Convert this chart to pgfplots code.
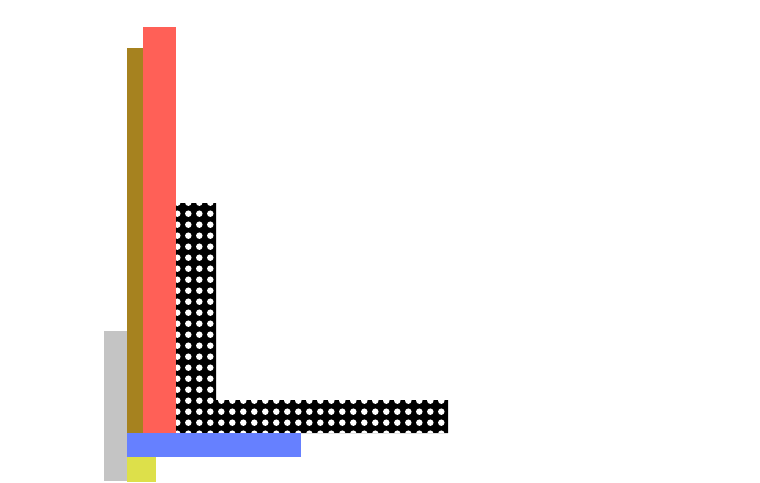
\documentclass[border=0pt]{standalone}
\usepackage{pgfplots}
\pgfplotsset{compat=1.18}
\usetikzlibrary{patterns.meta}

\definecolor{cgray}{HTML}{C4C4C4}
\definecolor{colive}{HTML}{A6821F}
\definecolor{cred}{HTML}{FF6057}
\definecolor{cblue}{HTML}{6680FF}
\definecolor{cyellow}{HTML}{DDE04A}

\tikzdeclarepattern{
  name=bigdots, type=uncolored,
  bottom left={(0pt,0pt)}, top right={(10.8pt,10.8pt)},
  tile size={(10.8pt,10.8pt)},
  code={\fill (5.4pt,5.4pt) circle (3.3pt);}
}

\begin{document}
\begin{tikzpicture}
\begin{axis}[
    scale only axis,
    width=760pt, height=482pt,
    xmin=0, xmax=760, ymin=0, ymax=482,
    y dir=reverse,
    hide axis,
]
% gray bar
\addplot[draw=none, fill=cgray] coordinates {(104,331) (127,331) (127,481) (104,481)} -- cycle;
% olive bar
\addplot[draw=none, fill=colive] coordinates {(127,48) (143,48) (143,433) (127,433)} -- cycle;
% red bar
\addplot[draw=none, fill=cred] coordinates {(143,27) (176,27) (176,433) (143,433)} -- cycle;
% dotted black L
\addplot[draw=none, fill=black, postaction={pattern=bigdots, pattern color=white}]
  coordinates {(176,203) (216,203) (216,400) (448,400) (448,433) (176,433)} -- cycle;
% blue horizontal bar
\addplot[draw=none, fill=cblue] coordinates {(126.5,433) (301,433) (301,457) (126.5,457)} -- cycle;
% yellow bar
\addplot[draw=none, fill=cyellow] coordinates {(127,457) (156,457) (156,481.5) (127,481.5)} -- cycle;
\end{axis}
\path (0,0) rectangle (760pt,482pt);
\end{tikzpicture}
\end{document}
